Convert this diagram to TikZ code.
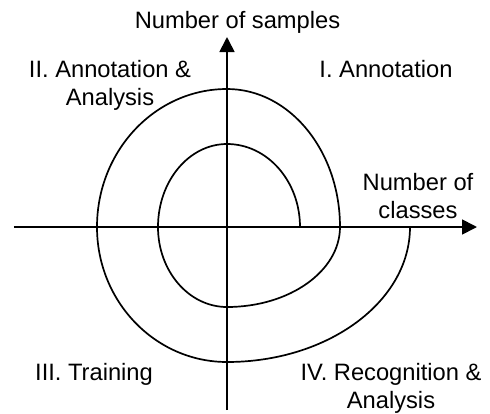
\documentclass[tikz,border=0pt]{standalone}
\usepackage{fontspec}
\setmainfont{Liberation Sans}
\usetikzlibrary{arrows.meta}
\begin{document}
\begin{tikzpicture}[x=1pt,y=1pt,line width=1.7pt,
  axis/.style={-{Triangle[length=15pt,width=15pt]}},
  lbl/.style={inner sep=0pt,align=center,font=\fontsize{23.7}{27.5}\selectfont}]
\useasboundingbox (-227,-186) rectangle (263,227);
% axes
\coordinate (xl) at (-213,0);
\coordinate (xr) at (250,0);
\coordinate (yb) at (0,-183);
\coordinate (yt) at (0,190);
\draw[axis] (xl) -- (xr);
\draw[axis] (yb) -- (yt);
% spiral of the four phases, built from quarter ellipses
\coordinate (s0) at (73,0);
\draw (s0)
  arc[start angle=0,end angle=90,x radius=73,y radius=83]
  arc[start angle=90,end angle=180,x radius=69,y radius=83]
  arc[start angle=180,end angle=270,x radius=69,y radius=80]
  arc[start angle=270,end angle=360,x radius=113,y radius=80]
  arc[start angle=0,end angle=90,x radius=113,y radius=138]
  arc[start angle=90,end angle=180,x radius=130,y radius=138]
  arc[start angle=180,end angle=270,x radius=130,y radius=135]
  arc[start angle=270,end angle=360,x radius=183,y radius=135];
% labels (base anchor sits on the last line)
\node[lbl,anchor=base] (ny) at (10.5,199) {Number of samples};
\node[lbl,anchor=base] (nx) at (191,9) {Number of\\classes};
\node[lbl,anchor=base] (q1) at (159,150) {I. Annotation};
\node[lbl,anchor=base] (q2) at (-117,122) {II. Annotation \&\\Analysis};
\node[lbl,anchor=base] (q3) at (-133,-153) {III. Training};
\node[lbl,anchor=base] (q4) at (164,-181) {IV. Recognition \&\\Analysis};
\end{tikzpicture}
\end{document}
